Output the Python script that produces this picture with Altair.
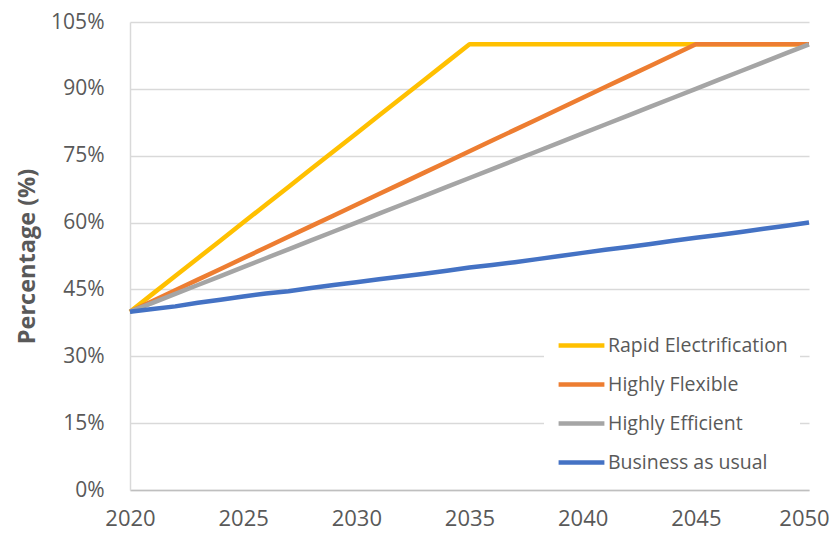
import altair as alt
import pandas as pd

years = list(range(2020, 2051))
series_names = ["Rapid Electrification", "Highly Flexible", "Highly Efficient", "Business as usual"]
series_colors = ["#FFC000", "#ED7D31", "#A5A5A5", "#4472C4"]

rapid = [40, 44, 48, 52, 56, 60, 64, 68, 72, 76, 80, 84, 88, 92, 96, 100,
         100, 100, 100, 100, 100, 100, 100, 100, 100, 100, 100, 100, 100, 100, 100]
flexible = [40, 42.4, 44.8, 47.2, 49.6, 52, 54.4, 56.8, 59.2, 61.6, 64, 66.4, 68.8, 71.2, 73.6, 76,
            78.4, 80.8, 83.2, 85.6, 88, 90.4, 92.8, 95.2, 97.6, 100, 100, 100, 100, 100, 100]
efficient = [40, 42, 44, 46, 48, 50, 52, 54, 56, 58, 60, 62, 64, 66, 68, 70,
             72, 74, 76, 78, 80, 82, 84, 86, 88, 90, 92, 94, 96, 98, 100]
bau = [40, 40.6, 41.2, 42, 42.7, 43.4, 44.1, 44.6, 45.3, 46, 46.6, 47.3, 47.9, 48.5, 49.2, 49.9,
       50.5, 51.1, 51.8, 52.5, 53.2, 53.9, 54.5, 55.2, 55.9, 56.6, 57.2, 57.9, 58.6, 59.3, 60]

y_ticks = [0, 15, 30, 45, 60, 75, 90, 105]
x_ticks = [2020, 2025, 2030, 2035, 2040, 2045, 2050]

rows = []
for order, (name, vals) in enumerate(zip(series_names, [rapid, flexible, efficient, bau])):
    for yr, v in zip(years, vals):
        rows.append({"Year": yr, "Value": v, "Series": name, "ord": order})
df = pd.DataFrame(rows)

FONT = "Open Sans"
GRAY_TXT = "#595959"

chart = alt.Chart(df).mark_line(strokeWidth=4.5, strokeJoin="round").encode(
    x=alt.X("Year:Q", scale=alt.Scale(domain=[2020, 2050], nice=False),
            axis=alt.Axis(values=x_ticks, format="d", title=None, grid=False, ticks=False,
                          domainColor="#bfbfbf", domainWidth=1.5, labelPadding=18,
                          labelFontSize=22, labelFont=FONT, labelColor=GRAY_TXT,
                          labelOffset=alt.ExprRef("datum.value == 2050 ? -5 : 0"),
                          labelFlush=False, labelOverlap=False)),
    y=alt.Y("Value:Q", scale=alt.Scale(domain=[0, 105], nice=False),
            axis=alt.Axis(values=y_ticks, labelExpr="datum.value + '%'", title="Percentage (%)",
                          titleFont=FONT, titleFontSize=23.5, titleFontWeight="bold",
                          titleColor=GRAY_TXT, titlePadding=11,
                          grid=True, gridColor="#d9d9d9", gridWidth=1.5, ticks=False,
                          domainColor="#d9d9d9", domainWidth=1.5, labelPadding=26,
                          labelFontSize=21, labelFont=FONT, labelColor=GRAY_TXT)),
    color=alt.Color("Series:N", scale=alt.Scale(domain=series_names, range=series_colors),
                    legend=alt.Legend(orient="none", legendX=414, legendY=286, title=None,
                                      symbolType="stroke", symbolSize=2100, symbolStrokeWidth=4.5,
                                      labelFontSize=19.5, labelFont=FONT, labelColor=GRAY_TXT,
                                      labelLimit=400, labelOffset=1, rowPadding=4,
                                      fillColor="white", padding=12)),
    order=alt.Order("ord:Q"),
).properties(
    width=679, height=468,
    autosize=alt.AutoSizeParams(type="none"),
    padding={"left": 122, "top": 14, "right": 20, "bottom": 45},
).configure_view(stroke=None)

chart.save("out.html", embed_options={"renderer": "svg", "actions": False})
